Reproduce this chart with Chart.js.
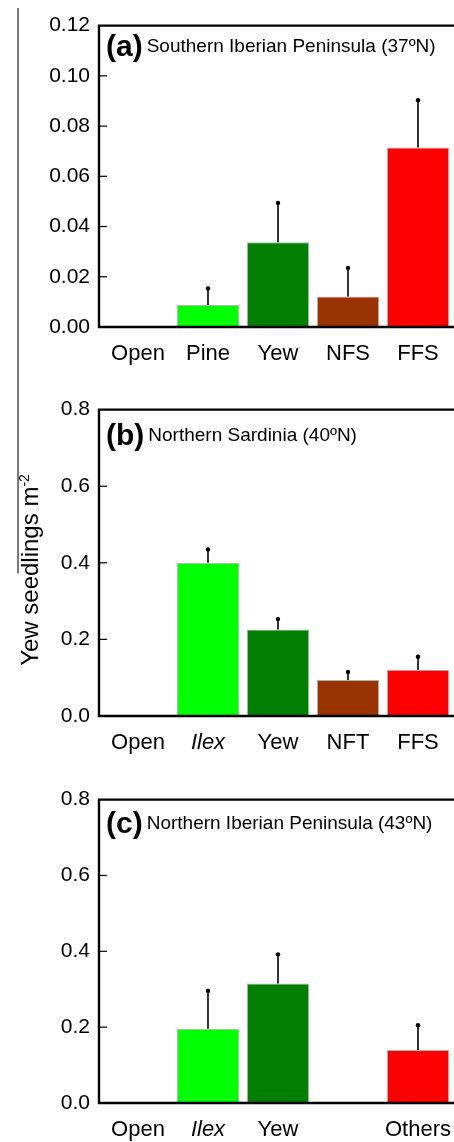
<!DOCTYPE html>
<html>
<head>
<meta charset="utf-8">
<script src="https://cdn.jsdelivr.net/npm/chart.js@4.4.1/dist/chart.umd.min.js"></script>
<style>
html, body { margin: 0; padding: 0; background: #fff; }
body { width: 454px; height: 1142px; overflow: hidden; position: relative; font-family: "Liberation Sans", Arial, sans-serif; }
canvas { position: absolute; left: 0; }
.panel-label { position: absolute; left: 106px; height: 40px; display: flex; align-items: center; white-space: nowrap; color: #000; }
.panel-label b { font-size: 30px; font-weight: bold; margin-right: 4px; }
.panel-label span { font-size: 19px; }
#ytitle { position: absolute; left: 30px; top: 570px; width: 220px; height: 30px; line-height: 30px; margin-left: -110px; margin-top: -15px;
  transform: rotate(-90deg); text-align: center; font-size: 24px; color: #000; white-space: nowrap; }
#ytitle sup { font-size: 14px; vertical-align: 9px; line-height: 0; }
#edge { position: absolute; left: 17px; top: 8px; width: 2px; height: 565px; background: #7a7a7a; }
</style>
</head>
<body>
<div id="edge"></div>
<canvas id="chartA" width="454" height="367" style="top:0px"></canvas>
<canvas id="chartB" width="454" height="372" style="top:384px"></canvas>
<canvas id="chartC" width="454" height="369" style="top:774px"></canvas>
<div class="panel-label" style="top:26px"><b>(a)</b><span>Southern Iberian Peninsula (37ºN)</span></div>
<div class="panel-label" style="top:415px"><b>(b)</b><span>Northern Sardinia (40ºN)</span></div>
<div class="panel-label" style="top:803px"><b>(c)</b><span>Northern Iberian Peninsula (43ºN)</span></div>
<div id="ytitle">Yew seedlings m<sup>-2</sup></div>
<script>
// Panel (a) - Southern Iberian Peninsula
const catsA = ['Open', 'Pine', 'Yew', 'NFS', 'FFS'];
const meanA = [null, 0.0088, 0.0337, 0.0121, 0.0715];
const seA = [null, 0.0065, 0.0157, 0.0114, 0.0188];
const yTicksA = [0, 0.02, 0.04, 0.06, 0.08, 0.10, 0.12];

// Panel (b) - Northern Sardinia
const catsB = ['Open', 'Ilex', 'Yew', 'NFT', 'FFS'];
const meanB = [null, 0.400, 0.226, 0.094, 0.121];
const seB = [null, 0.035, 0.027, 0.021, 0.034];
const yTicksB = [0, 0.2, 0.4, 0.6, 0.8];

// Panel (c) - Northern Iberian Peninsula
const catsC = ['Open', 'Ilex', 'Yew', '', 'Others'];
const meanC = [null, 0.196, 0.315, null, 0.140];
const seC = [null, 0.100, 0.077, null, 0.065];
const yTicksC = [0, 0.2, 0.4, 0.6, 0.8];

const FONT = '"Liberation Sans", Arial, sans-serif';

// bar fill by microhabitat
const barColors = {
    'Pine': '#00ff00',
    'Ilex': '#00ff00',
    'Yew': '#007f00',
    'NFS': '#993300',
    'NFT': '#993300',
    'FFS': '#ff0000',
    'Others': '#ff0000'
};

// Error bars (upper only), open frame and inside ticks
const framePlugin = {
    id: 'frame',
    afterDatasetsDraw(chart, args, opts) {
        const ctx = chart.ctx;
        const area = chart.chartArea;
        const yScale = chart.scales.y;
        const ds = chart.data.datasets[0];
        const meta = chart.getDatasetMeta(0);

        ctx.save();
        ctx.strokeStyle = '#000';
        ctx.fillStyle = '#000';
        ctx.lineWidth = 1.6;
        meta.data.forEach((bar, i) => {
            const se = opts.errors[i];
            if (se == null || ds.data[i] == null) return;
            const yTop = yScale.getPixelForValue(ds.data[i] + se);
            ctx.beginPath();
            ctx.moveTo(bar.x, bar.y);
            ctx.lineTo(bar.x, yTop);
            ctx.stroke();
            ctx.beginPath();
            ctx.arc(bar.x, yTop, 2.2, 0, Math.PI * 2);
            ctx.fill();
        });

        const left = area.left - 4;
        ctx.lineWidth = 2.4;
        ctx.beginPath();
        ctx.moveTo(chart.width, area.top);
        ctx.lineTo(left, area.top);
        ctx.lineTo(left, area.bottom);
        ctx.lineTo(chart.width, area.bottom);
        ctx.stroke();

        ctx.lineWidth = 1.2;
        yScale.ticks.forEach((t, i) => {
            if (i === 0 || i === yScale.ticks.length - 1) return;
            const py = yScale.getPixelForValue(t.value);
            ctx.beginPath();
            ctx.moveTo(left, py);
            ctx.lineTo(left + 8, py);
            ctx.stroke();
        });
        ctx.restore();
    }
};

function makePanel(id, cats, means, errs, yTicks, digits, padTop) {
    return new Chart(document.getElementById(id), {
        type: 'bar',
        data: {
            labels: cats,
            datasets: [{
                data: means,
                backgroundColor: cats.map(c => barColors[c] || '#ffffff'),
                borderColor: 'rgba(0,0,0,0.3)',
                borderWidth: 1,
                barPercentage: 0.89,
                categoryPercentage: 1
            }]
        },
        options: {
            responsive: false,
            animation: false,
            layout: { padding: { top: padTop, right: 1, left: 0, bottom: 0 } },
            plugins: {
                legend: { display: false },
                tooltip: { enabled: false },
                frame: { errors: errs }
            },
            scales: {
                x: {
                    grid: { display: false, drawTicks: false },
                    border: { display: false },
                    ticks: {
                        color: '#000',
                        padding: 14,
                        autoSkip: false,
                        maxRotation: 0,
                        minRotation: 0,
                        font: (c) => ({ family: FONT, size: 22, style: cats[c.index] === 'Ilex' ? 'italic' : 'normal' })
                    },
                    afterFit: (s) => {
                        s.height = 40;
                        s.paddingLeft = 0;
                        s.paddingRight = 0;
                    }
                },
                y: {
                    min: yTicks[0],
                    max: yTicks[yTicks.length - 1],
                    grid: { display: false, drawTicks: false },
                    border: { display: false },
                    afterBuildTicks: (s) => { s.ticks = yTicks.map(v => ({ value: v })); },
                    ticks: {
                        color: '#000',
                        padding: 13,
                        font: { family: FONT, size: 21 },
                        callback: (v) => Number(v).toFixed(digits)
                    },
                    afterFit: (s) => { s.width = 103; }
                }
            }
        },
        plugins: [framePlugin]
    });
}

makePanel('chartA', catsA, meanA, seA, yTicksA, 2, 16);
makePanel('chartB', catsB, meanB, seB, yTicksB, 1, 20);
makePanel('chartC', catsC, meanC, seC, yTicksC, 1, 20);
</script>
</body>
</html>
